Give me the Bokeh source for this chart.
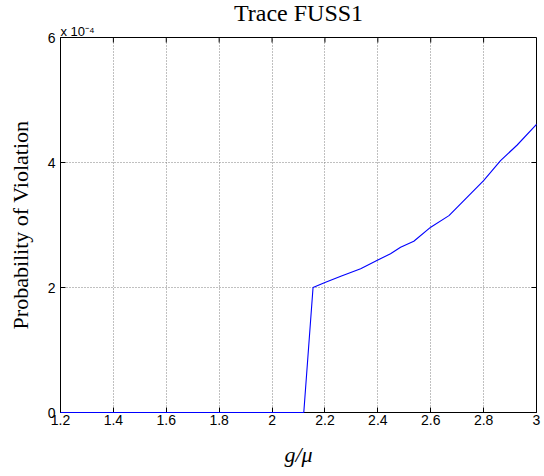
from bokeh.plotting import figure
from bokeh.models import LinearAxis, FixedTicker, CustomJSTickFormatter, Range1d, Title
from bokeh.embed import file_html
from bokeh.resources import INLINE

# ---- data ----
g_over_mu = [1.2, 2.12, 2.155, 2.2, 2.26, 2.335, 2.4, 2.448, 2.486, 2.536,
             2.6, 2.669, 2.8, 2.864, 2.927, 3.0]
prob_violation = [0.0, 0.0, 2.0e-4, 2.08e-4, 2.18e-4, 2.30e-4, 2.44e-4, 2.54e-4,
                  2.645e-4, 2.74e-4, 2.965e-4, 3.15e-4, 3.71e-4, 4.03e-4,
                  4.28e-4, 4.61e-4]
x_ticks = [1.2, 1.4, 1.6, 1.8, 2.0, 2.2, 2.4, 2.6, 2.8, 3.0]
y_ticks = [0.0, 2e-4, 4e-4, 6e-4]
title_text = "Trace FUSS1"
multiplier_text = "x 10⁻⁴"
y_label = "Probability of Violation"
x_label = "g/μ"

W, H = 544, 476
L, R, T, B = 60, 8, 37, 64
FW, FH = W - L - R, H - T - B
X0, X1 = 1.2, 3.0
Y0, Y1 = 0.0, 6e-4
TICK = 5  # px

p = figure(width=W, height=H, output_backend="svg", toolbar_location=None,
           x_range=Range1d(X0, X1), y_range=Range1d(Y0, Y1),
           min_border_left=L, min_border_right=R, min_border_top=T,
           min_border_bottom=B, x_axis_location=None, y_axis_location=None)
p.background_fill_color = "white"
p.border_fill_color = "white"
p.outline_line_color = "black"
p.outline_line_width = 1

tick_font = "Liberation Sans"
serif = "Liberation Serif"
fmt_y = CustomJSTickFormatter(code="return (tick*1e4).toFixed(0);")
fmt_x = CustomJSTickFormatter(code="return (Math.round(tick*10)/10).toString();")


def style_axis(ax):
    ax.axis_line_color = "black"
    ax.axis_line_width = 1
    ax.major_tick_in = TICK
    ax.major_tick_out = 0
    ax.minor_tick_line_color = None
    ax.major_tick_line_color = "black"
    ax.major_label_text_font = tick_font
    ax.major_label_text_font_size = "14px"
    ax.major_label_text_color = "black"
    ax.axis_label_text_font = serif
    ax.axis_label_text_font_size = "22px"
    ax.axis_label_text_color = "black"


xb = LinearAxis(ticker=FixedTicker(ticks=x_ticks), formatter=fmt_x,
                axis_label=x_label)
style_axis(xb)
xb.major_label_standoff = 2
xb.axis_label_standoff = 14
xb.axis_label_text_font_style = "italic"
p.add_layout(xb, "below")

yl = LinearAxis(ticker=FixedTicker(ticks=y_ticks), formatter=fmt_y,
                axis_label=y_label)
style_axis(yl)
yl.major_label_standoff = 5
yl.axis_label_standoff = 12
yl.axis_label_text_font_style = "normal"
p.add_layout(yl, "left")

# tick marks on the top and right edges of the box
tx = (X1 - X0) * TICK / FW
ty = (Y1 - Y0) * TICK / FH
p.segment(x0=x_ticks, y0=[Y1] * len(x_ticks), x1=x_ticks,
          y1=[Y1 - ty] * len(x_ticks), line_color="black", line_width=1)
p.segment(x0=[X1] * len(y_ticks), y0=y_ticks, x1=[X1 - tx] * len(y_ticks),
          y1=y_ticks, line_color="black", line_width=1)

p.xgrid.ticker = FixedTicker(ticks=x_ticks)
p.ygrid.ticker = FixedTicker(ticks=y_ticks)
for g in (p.xgrid, p.ygrid):
    g.grid_line_color = "#808080"
    g.grid_line_dash = "1 2"
    g.grid_line_width = 1

p.line(g_over_mu, prob_violation, line_color="#0000ff", line_width=1.1,
       level="overlay")

p.add_layout(Title(text=multiplier_text, align="left", text_font=tick_font,
                   text_font_size="13px", text_font_style="normal",
                   text_color="black", standoff=-2, offset=0), "above")
p.add_layout(Title(text=title_text, align="center", text_font=serif,
                   text_font_size="24px", text_font_style="normal",
                   text_color="black", standoff=-6, offset=0), "above")

open("out.html", "w").write(file_html(p, INLINE))
